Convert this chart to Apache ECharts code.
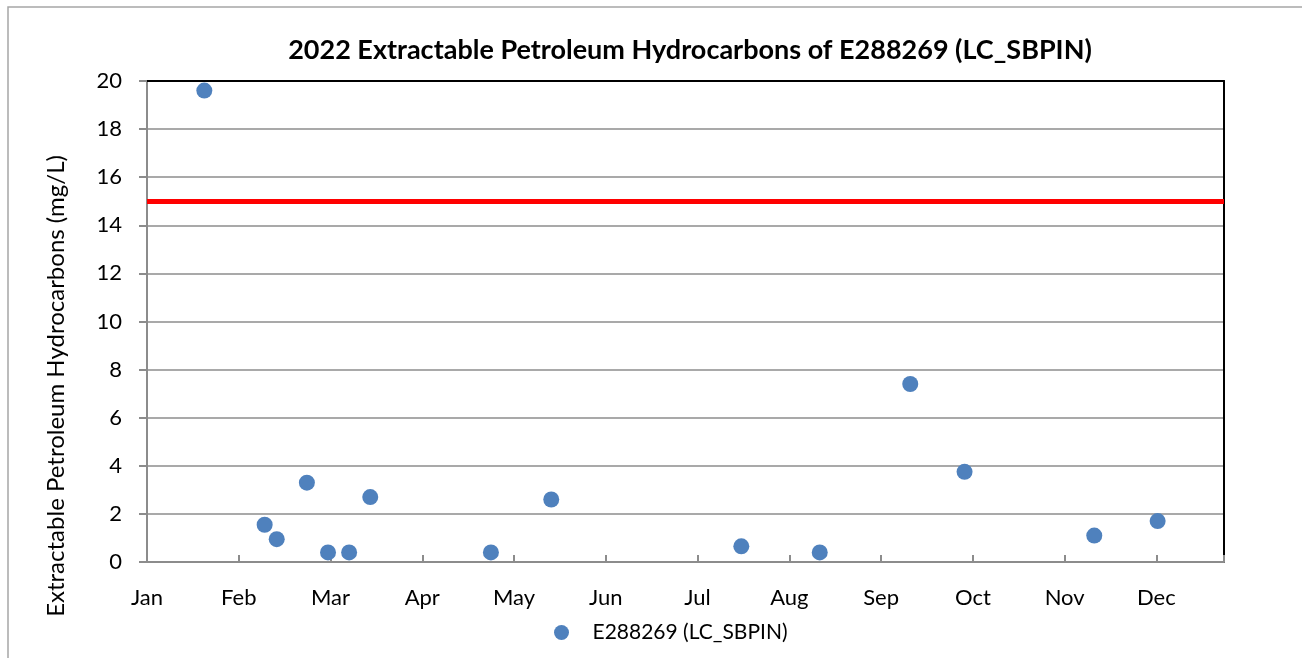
<!DOCTYPE html>
<html>
<head>
<meta charset="utf-8">
<script src="https://cdn.jsdelivr.net/npm/echarts@6/dist/echarts.min.js"></script>
<style>
  html, body { margin: 0; padding: 0; background: #fff; }
  #chart { width: 1302px; height: 658px; }
</style>
</head>
<body>
<div id="chart"></div>
<script>
// month tick labels, one per 365/12 days
var months = ['Jan', 'Feb', 'Mar', 'Apr', 'May', 'Jun', 'Jul', 'Aug', 'Sep', 'Oct', 'Nov', 'Dec'];
// sample day of year (Jan 1 = 0)
var sampleDay = [19, 39, 43, 53, 60, 67, 74, 114, 134, 197, 223, 253, 271, 314, 335];
// EPH values, mg/L
var ephValue = [19.6, 1.55, 0.95, 3.3, 0.4, 0.4, 2.7, 0.4, 2.6, 0.65, 0.4, 7.4, 3.75, 1.1, 1.7];
var guideline = 15;
var seriesName = 'E288269 (LC_SBPIN)';

var monthStep = 365 / 12;
var fontFam = 'Lato, "Open Sans", sans-serif';

var points = [];
for (var i = 0; i < sampleDay.length; i++) {
  points.push([sampleDay[i], ephValue[i]]);
}

var chart = echarts.init(document.getElementById('chart'));

var option = {
  animation: false,
  title: {
    text: '2022 Extractable Petroleum Hydrocarbons of E288269 (LC_SBPIN)',
    left: 685,
    top: 32,
    textAlign: 'center',
    textStyle: {
      fontFamily: fontFam,
      fontWeight: 'bold',
      fontSize: 27,
      color: '#000'
    }
  },
  legend: {
    left: 549,
    top: 617,
    icon: 'circle',
    itemWidth: 52,
    itemHeight: 15,
    itemGap: 10,
    textStyle: {
      fontFamily: fontFam,
      fontSize: 21,
      color: '#000'
    },
    data: [seriesName]
  },
  grid: {
    left: 147,
    right: 78,
    top: 81,
    bottom: 96
  },
  graphic: [
    {
      type: 'rect',
      shape: { x: 8, y: 7, width: 1400, height: 800 },
      style: { fill: 'none', stroke: '#a6a6a6', lineWidth: 1.5 },
      silent: true
    },
    {
      type: 'text',
      x: 56,
      y: 386,
      rotation: Math.PI / 2,
      style: {
        text: 'Extractable Petroleum Hydrocarbons (mg/L)',
        fontFamily: fontFam,
        fontSize: 24,
        fill: '#000',
        align: 'center',
        verticalAlign: 'middle'
      }
    }
  ],
  xAxis: [{
    type: 'value',
    min: 0,
    max: 357,
    interval: monthStep,
    axisLine: { show: true, lineStyle: { color: '#8c8c8c', width: 2 } },
    axisTick: { show: true, inside: true, length: 7, lineStyle: { color: '#8c8c8c', width: 2 } },
    splitLine: { show: false },
    axisLabel: {
      margin: 25,
      fontFamily: fontFam,
      fontSize: 22,
      color: '#000',
      formatter: function (v) {
        var idx = Math.round(v / monthStep);
        return months[idx] || '';
      }
    }
  }, {
    type: 'value',
    position: 'top',
    min: 0,
    max: 357,
    axisLine: { show: true, onZero: false, lineStyle: { color: '#000', width: 2 } },
    axisTick: { show: false },
    axisLabel: { show: false },
    splitLine: { show: false }
  }],
  yAxis: [{
    type: 'value',
    min: 0,
    max: 20,
    interval: 2,
    axisLine: { show: true, lineStyle: { color: '#8c8c8c', width: 2 } },
    axisTick: { show: true, length: 8, lineStyle: { color: '#8c8c8c', width: 2 } },
    splitLine: { show: true, lineStyle: { color: '#8c8c8c', width: 1.5 } },
    axisLabel: {
      margin: 25,
      fontFamily: fontFam,
      fontSize: 22,
      color: '#000'
    }
  }, {
    type: 'value',
    position: 'right',
    min: 0,
    max: 20,
    axisLine: { show: true, onZero: false, lineStyle: { color: '#000', width: 2 } },
    axisTick: { show: false },
    axisLabel: { show: false },
    splitLine: { show: false }
  }],
  series: [{
    name: seriesName,
    type: 'scatter',
    symbol: 'circle',
    symbolSize: 16,
    itemStyle: { color: '#4f81bd', opacity: 1 },
    data: points,
    z: 3,
    markLine: {
      silent: true,
      symbol: 'none',
      label: { show: false },
      lineStyle: { color: '#ff0000', width: 5, type: 'solid' },
      data: [{ yAxis: guideline }]
    }
  }]
};

chart.setOption(option);
</script>
</body>
</html>
